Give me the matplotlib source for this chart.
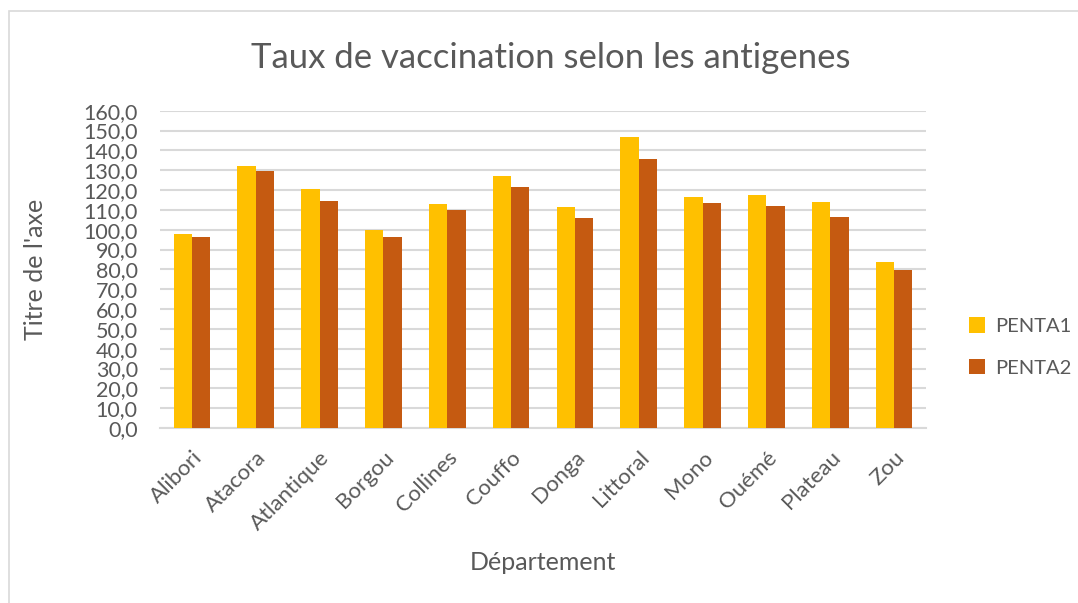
import matplotlib
matplotlib.use("Agg")
import matplotlib.pyplot as plt
import numpy as np
from matplotlib.patches import Rectangle

categories = ["Alibori", "Atacora", "Atlantique", "Borgou", "Collines", "Couffo",
              "Donga", "Littoral", "Mono", "Ouémé", "Plateau", "Zou"]
penta1 = [97.8, 132.2, 120.7, 99.8, 113.1, 126.9, 111.4, 146.8, 116.3, 117.7, 113.8, 83.8]
penta2 = [96.1, 129.8, 114.5, 96.1, 109.9, 121.7, 105.9, 135.5, 113.3, 111.9, 106.2, 79.8]
yticks = list(range(0, 161, 10))
ytick_labels = [f"{v},0" for v in yticks]

plt.rcParams['font.family'] = ['Lato', 'DejaVu Sans']
txt = "#595959"

fig = plt.figure(figsize=(10.78, 6.03), dpi=100)
ax = fig.add_axes([160/1078, 1-428/603, (926-160)/1078, (428-110.7)/603])

x = np.arange(len(categories))
w = 0.287
ax.bar(x - w/2, penta1, w, color="#FFC000", label="PENTA1", zorder=3)
ax.bar(x + w/2, penta2, w, color="#C55A11", label="PENTA2", zorder=3)

ax.set_xlim(-0.5, len(categories) - 0.5)
ax.set_ylim(0, 160)
ax.set_yticks(yticks)
ax.set_yticklabels(ytick_labels)
ax.yaxis.grid(True, color="#d9d9d9", linewidth=1.5, zorder=0)
ax.set_axisbelow(True)
for s in ["top", "right", "left"]:
    ax.spines[s].set_visible(False)
ax.spines["bottom"].set_color("#d9d9d9")
ax.spines["bottom"].set_linewidth(1.5)
ax.tick_params(axis="y", length=0, pad=16, labelsize=15.5, labelcolor=txt)
ax.tick_params(axis="x", length=0, pad=14, labelsize=16, labelcolor=txt)
ax.set_xticks(x)
ax.set_xticklabels(categories, rotation=45, ha="right", rotation_mode="anchor")

ax.set_ylabel("Titre de l'axe", fontsize=18, color=txt)
ax.yaxis.set_label_coords(-(160-47)/766, 0.5)
fig.text(543/1078, 1-562/603, "Département", fontsize=18, color=txt, ha="center", va="center")
fig.text(551/1078, 1-58/603, "Taux de vaccination selon les antigenes", fontsize=25,
         color=txt, ha="center", va="center")

leg = ax.legend(loc="center left", bbox_to_anchor=(951/1078, 1-347/603),
                bbox_transform=fig.transFigure, frameon=False, fontsize=14.5,
                handlelength=0.8, handleheight=0.8, handletextpad=0.5, labelspacing=1.2)
for t in leg.get_texts():
    t.set_color(txt)

fig.patches.append(Rectangle((9/1078, -0.1), 1.2, 1 - 11/603 + 0.1, transform=fig.transFigure,
                             fill=False, edgecolor="#d9d9d9", linewidth=1.2))

fig.savefig("out.png", dpi=100)
